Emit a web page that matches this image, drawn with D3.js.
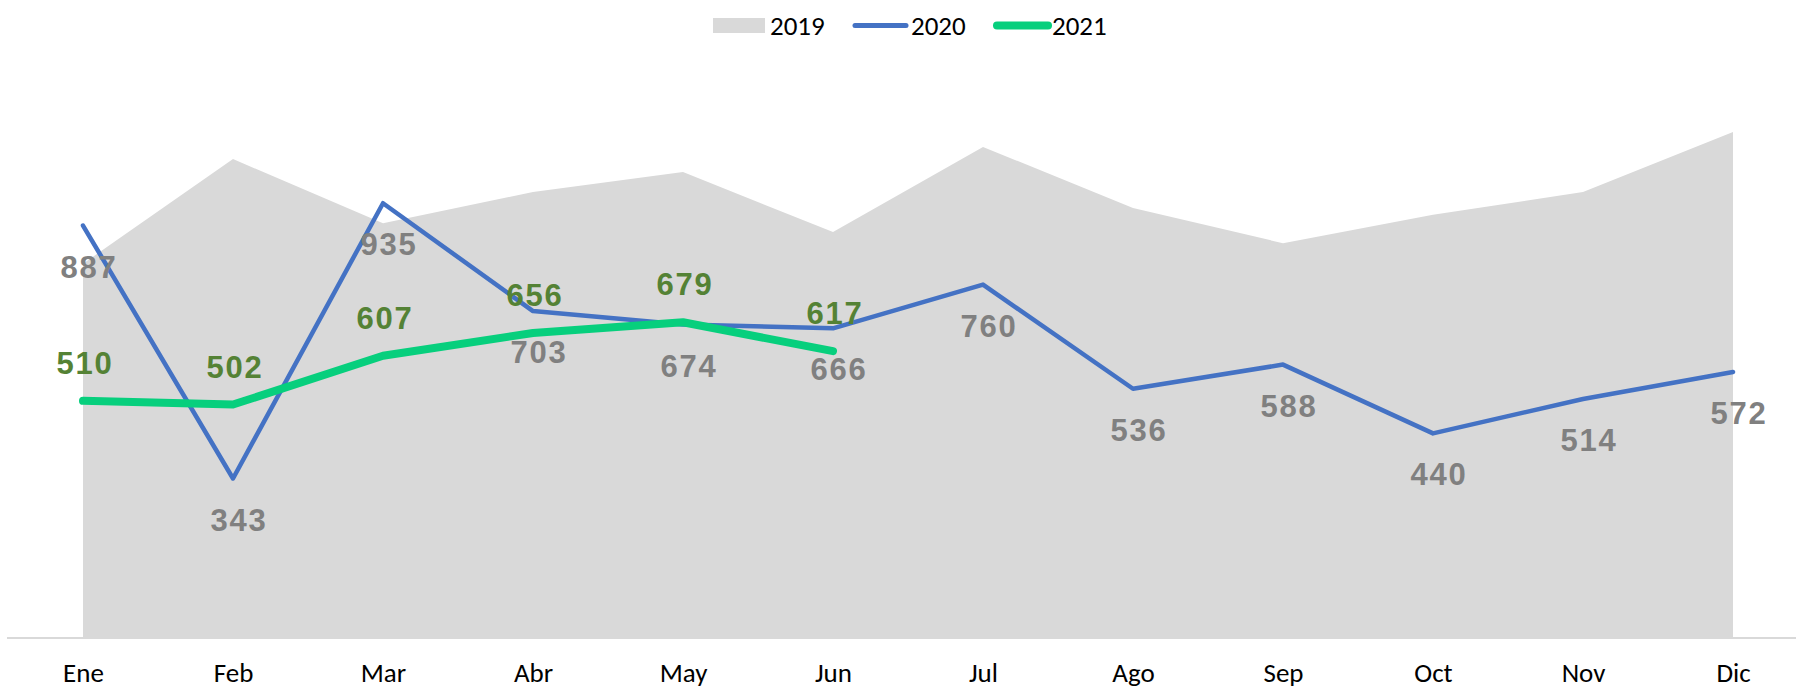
<!DOCTYPE html>
<html>
<head>
<meta charset="utf-8">
<script src="https://cdn.jsdelivr.net/npm/d3@7"></script>
<style>
  body { margin:0; background:#fff; }
  .lbl { font-family:"Liberation Sans", Arial, sans-serif; font-weight:bold; font-size:31px; letter-spacing:1.8px; }
  .cal { font-family:Carlito, Calibri, Lato, sans-serif; }
</style>
</head>
<body>
<div id="chart-area"></div>
<script>
// data
var months = ["Ene","Feb","Mar","Abr","May","Jun","Jul","Ago","Sep","Oct","Nov","Dic"];
var v2019 = [805,1030,892,959,1002,873,1056,925,849,910,959,1088];
var v2020 = [887,343,935,703,674,666,760,536,588,440,514,572];
var v2021 = [510,502,607,656,679,617];
var seriesNames = ["2019","2020","2021"];

var width = 1796, height = 690;

var svg = d3.select("#chart-area").append("svg")
    .attr("width", width)
    .attr("height", height);

//Scales
var x = d3.scalePoint().domain(months).range([83,1733]);
var y = d3.scaleLinear().domain([0,1000]).range([638,173]);

//2019 area
var area = d3.area()
    .x((d,i) => x(months[i]))
    .y0(y(0))
    .y1((d) => y(d));
svg.append("path")
    .attr("d", area(v2019))
    .attr("fill","#d9d9d9");

//axis line
svg.append("line")
    .attr("x1",7).attr("x2",width)
    .attr("y1",y(0)).attr("y2",y(0))
    .attr("stroke","#d9d9d9")
    .attr("stroke-width",2);

//x axis labels
var xAxis = d3.axisBottom(x).tickSize(0).tickPadding(25);
var gx = svg.append("g")
    .attr("transform","translate(0,"+y(0)+")")
    .call(xAxis);
gx.select(".domain").remove();
gx.selectAll("text")
    .attr("class","cal")
    .attr("font-size","27px")
    .attr("fill","#000");

var line = d3.line()
    .x((d,i) => x(months[i]))
    .y((d) => y(d));

//2020 line
svg.append("path")
    .attr("d", line(v2020))
    .attr("fill","none")
    .attr("stroke","#4472c4")
    .attr("stroke-width",4.5)
    .attr("stroke-linecap","round")
    .attr("stroke-linejoin","round");

//2021 line
svg.append("path")
    .attr("d", line(v2021))
    .attr("fill","none")
    .attr("stroke","#07cf7d")
    .attr("stroke-width",8)
    .attr("stroke-linecap","round")
    .attr("stroke-linejoin","round");

//labels 2020 (below)
svg.selectAll(".l20").data(v2020).enter().append("text")
    .attr("class","lbl l20")
    .attr("x",(d,i) => x(months[i]) + 6)
    .attr("y",(d) => y(d) + 52)
    .attr("text-anchor","middle")
    .attr("fill","#808080")
    .text((d) => d);

//labels 2021 (above)
svg.selectAll(".l21").data(v2021).enter().append("text")
    .attr("class","lbl l21")
    .attr("x",(d,i) => x(months[i]) + 2)
    .attr("y",(d) => y(d) - 27)
    .attr("text-anchor","middle")
    .attr("fill","#548235")
    .text((d) => d);

//Legend
var legend = svg.append("g");
legend.append("rect")
    .attr("x",713).attr("y",18)
    .attr("width",52).attr("height",15)
    .attr("fill","#d9d9d9");
legend.append("line")
    .attr("x1",855).attr("x2",906).attr("y1",25.5).attr("y2",25.5)
    .attr("stroke","#4472c4").attr("stroke-width",5).attr("stroke-linecap","round");
legend.append("line")
    .attr("x1",997).attr("x2",1048).attr("y1",25.5).attr("y2",25.5)
    .attr("stroke","#07cf7d").attr("stroke-width",8).attr("stroke-linecap","round");
var legX = [770,911,1052];
legend.selectAll(".lt").data(seriesNames).enter().append("text")
    .attr("class","cal lt")
    .attr("x",(d,i) => legX[i])
    .attr("y",35)
    .attr("font-size","27px")
    .attr("fill","#000")
    .text((d) => d);
</script>
</body>
</html>
